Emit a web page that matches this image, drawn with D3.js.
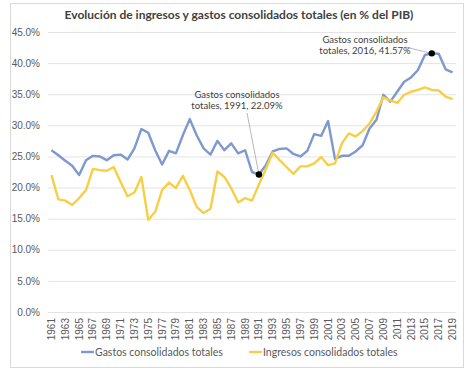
<!DOCTYPE html>
<html>
<head>
<meta charset="utf-8">
<script src="https://cdn.jsdelivr.net/npm/d3@7"></script>
<style>
  body { margin: 0; background: #fff; }
  svg { font-family: Lato, "Open Sans", sans-serif; }
  .grid line { stroke: #e3e3e3; stroke-width: 1; }
  .grid .domain { display: none; }
  .tick text { fill: #595959; font-size: 10px; }
  .axis .domain, .axis line { display: none; }
  .line { fill: none; stroke-width: 2.4; stroke-linejoin: round; }
  .gastos { stroke: #7d99cf; }
  .ingresos { stroke: #f7cf45; }
  .note { fill: #404040; font-size: 9.5px; }
  .leader { stroke: #a6a6a6; stroke-width: 0.8; }
  .legend-label { fill: #595959; font-size: 10.5px; }
</style>
</head>
<body>
<svg id="chart" width="474" height="370"></svg>
<script>
const years = d3.range(1961, 2020);

const gastos = [
  26.0, 25.2, 24.3, 23.5, 22.0, 24.4, 25.1, 25.0, 24.4, 25.2,
  25.3, 24.5, 26.3, 29.4, 28.8, 26.0, 23.7, 25.9, 25.5, 28.4,
  31.0, 28.4, 26.3, 25.3, 27.5, 26.0, 27.1, 25.5, 26.0, 22.5,
  22.09, 23.6, 25.8, 26.2, 26.3, 25.4, 25.0, 25.9, 28.6, 28.3,
  30.7, 24.6, 25.1, 25.1, 25.8, 26.8, 29.5, 30.9, 34.9, 33.8,
  35.4, 37.0, 37.7, 38.9, 41.3, 41.57, 41.5, 39.0, 38.5
];

const ingresos = [
  22.0, 18.1, 17.9, 17.2, 18.3, 19.6, 23.0, 22.8, 22.7, 23.3,
  20.9, 18.6, 19.2, 21.7, 14.8, 16.1, 19.6, 20.8, 19.9, 21.9,
  19.6, 16.9, 15.9, 16.6, 22.6, 21.7, 19.9, 17.6, 18.3, 17.9,
  20.5, 23.0, 25.6, 24.4, 23.3, 22.2, 23.4, 23.4, 23.9, 24.9,
  23.6, 23.9, 27.1, 28.7, 28.2, 29.1, 30.3, 32.2, 34.5, 34.0,
  33.6, 34.9, 35.4, 35.7, 36.1, 35.7, 35.6, 34.6, 34.2
];

const yTicks = [0, 5, 10, 15, 20, 25, 30, 35, 40, 45];
const seriesNames = ['Gastos consolidados totales', 'Ingresos consolidados totales'];
const notes = [
  {year: 1991, value: 22.09, lines: ['Gastos consolidados', 'totales, 1991, 22.09%'], tx: 237, ty: 98, lx: 247, ly: 113},
  {year: 2016, value: 41.57, lines: ['Gastos consolidados', 'totales, 2016, 41.57%'], tx: 365, ty: 43, lx: 405, ly: 47}
];

const svg = d3.select('#chart');
const plot = {left: 48, right: 456, top: 32, bottom: 312};

// outer frame, like the spreadsheet chart area
svg.append('rect')
  .attr('x', 10.5).attr('y', 3.5)
  .attr('width', 453).attr('height', 364)
  .attr('fill', '#fff').attr('stroke', '#d9d9d9');

svg.append('text')
  .attr('x', 239).attr('y', 19)
  .attr('text-anchor', 'middle')
  .attr('font-size', 12).attr('font-weight', 'bold')
  .attr('fill', '#404040')
  .text('Evolución de ingresos y gastos consolidados totales (en % del PIB)');

const x = d3.scaleBand().domain(years).range([plot.left, plot.right]);
const y = d3.scaleLinear().domain([0, 45]).range([plot.bottom, plot.top]);
const cx = yr => x(yr) + x.bandwidth() / 2;

svg.append('g')
  .attr('class', 'grid')
  .attr('transform', `translate(${plot.left},0)`)
  .call(d3.axisLeft(y).tickValues(yTicks).tickSize(-(plot.right - plot.left)).tickFormat(''));

svg.append('g')
  .attr('class', 'axis')
  .attr('transform', `translate(${plot.left - 8},0)`)
  .call(d3.axisLeft(y).tickValues(yTicks).tickSize(0).tickPadding(0).tickFormat(d => d.toFixed(1) + '%'));

const xAxis = svg.append('g')
  .attr('class', 'axis')
  .attr('transform', `translate(0,${plot.bottom})`)
  .call(d3.axisBottom(x).tickValues(years.filter((d, i) => i % 2 === 0)).tickSize(0));

xAxis.selectAll('.tick text')
  .attr('transform', 'rotate(-90)')
  .attr('text-anchor', 'end')
  .attr('x', -6).attr('y', 0).attr('dy', '0.35em');

const line = d3.line()
  .x((d, i) => cx(years[i]))
  .y(d => y(d));

svg.append('path').datum(gastos).attr('class', 'line gastos').attr('d', line);
svg.append('path').datum(ingresos).attr('class', 'line ingresos').attr('d', line);

notes.forEach(n => {
  svg.append('line')
    .attr('class', 'leader')
    .attr('x1', n.lx).attr('y1', n.ly)
    .attr('x2', cx(n.year)).attr('y2', y(n.value));
  svg.append('circle')
    .attr('cx', cx(n.year)).attr('cy', y(n.value))
    .attr('r', 3.2).attr('fill', '#000');
  const t = svg.append('text')
    .attr('class', 'note')
    .attr('text-anchor', 'middle');
  n.lines.forEach((s, i) => {
    t.append('tspan').attr('x', n.tx).attr('y', n.ty + i * 11).text(s);
  });
});

// legend
const legendItems = [
  {label: seriesNames[0], cls: 'gastos', x: 81},
  {label: seriesNames[1], cls: 'ingresos', x: 249}
];
legendItems.forEach(item => {
  const row = svg.append('g').attr('transform', `translate(${item.x},352)`);
  row.append('line')
    .attr('class', 'line ' + item.cls)
    .attr('x1', 0).attr('x2', 13).attr('y1', 0).attr('y2', 0);
  row.append('text')
    .attr('class', 'legend-label')
    .attr('x', 14).attr('y', 0).attr('dy', '0.35em')
    .text(item.label);
});
</script>
</body>
</html>
